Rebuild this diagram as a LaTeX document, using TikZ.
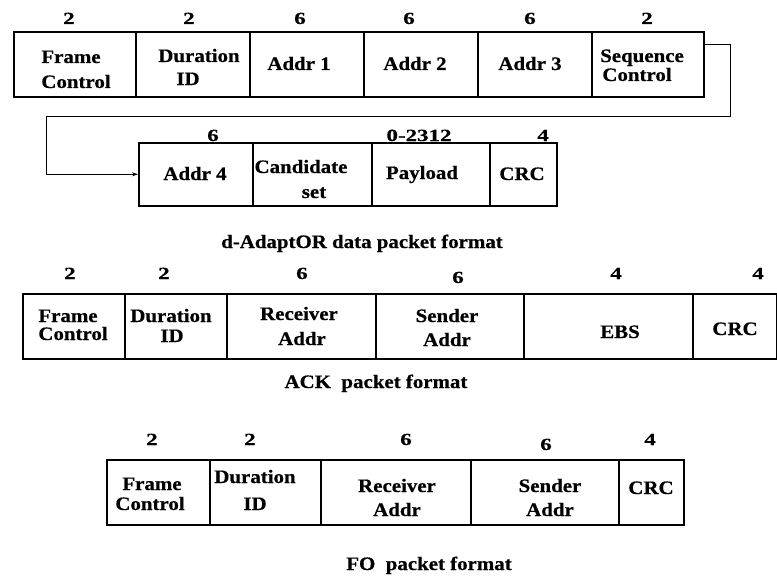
\documentclass[tikz,border=0pt]{standalone}
\usepackage{fontspec}
\setmainfont[FakeStretch=1.1,BoldFeatures={FakeBold=0.6}]{Liberation Serif}
\newfontfamily\numfont[FakeStretch=1.35,BoldFeatures={FakeBold=0.6}]{Liberation Serif}
\usetikzlibrary{arrows.meta}
\newcommand\cbox[5]{\node[cellbox, minimum width={#3-#2}, minimum height={#5-#4}] (#1) at (#2,#4) {};}
\newcommand\ctext[4]{\node[celltext] (#1) at (#2,#3) {#4};}
\newcommand\cnum[4]{\node[num] (#1) at (#2,#3) {#4};}
\begin{document}
\begin{tikzpicture}[x=1pt,y=-1pt,
 cellbox/.style={draw, line width=1.6pt, inner sep=0pt, anchor=north west},
 celltext/.style={font=\fontsize{19}{22}\selectfont\bfseries, inner sep=0pt, anchor=base},
 num/.style={font=\numfont\fontsize{17}{20}\selectfont\bfseries, inner sep=0pt, anchor=base},
 link/.style={line width=0.8pt, -{Stealth[length=6pt,width=4pt]}}]
\useasboundingbox (0,0) rectangle (777,578);
% ================= row 1
\cbox{fc1}{13}{135}{31}{96}
\cbox{di1}{135}{249}{31}{96}
\cbox{a1}{249}{363}{31}{96}
\cbox{a2}{363}{477}{31}{96}
\cbox{a3}{477}{591}{31}{96}
\cbox{sc}{591}{703}{31}{96}
\ctext{fc1a}{71}{63}{Frame}
\ctext{fc1b}{76}{88}{Control}
\ctext{di1a}{199}{62}{Duration}
\ctext{di1b}{188}{85}{ID}
\ctext{a1t}{299}{70}{Addr 1}
\ctext{a2t}{415}{70}{Addr 2}
\ctext{a3t}{530}{70}{Addr 3}
\ctext{sca}{642}{62}{Sequence}
\ctext{scb}{637}{81}{Control}
\cnum{n11}{69}{24}{2}
\cnum{n12}{189}{24}{2}
\cnum{n13}{300}{24}{6}
\cnum{n14}{409}{24}{6}
\cnum{n15}{530}{24}{6}
\cnum{n16}{647}{24}{2}
% ================= row 2
\cbox{a4}{138}{252}{142}{205}
\cbox{cs}{252}{371}{142}{205}
\cbox{pl}{371}{489}{142}{205}
\cbox{crc1}{489}{556}{142}{205}
\ctext{a4t}{195}{180}{Addr 4}
\ctext{csa}{301}{173}{Candidate}
\ctext{csb}{314}{198}{set}
\ctext{plt}{422}{179}{Payload}
\ctext{crc1t}{522}{180}{CRC}
\cnum{n21}{213}{141}{6}
\cnum{n22}{419}{141}{0-2312}
\cnum{n23}{543}{141}{4}
\coordinate (k1) at (730,44);
\coordinate (k2) at (730,116);
\coordinate (k3) at (46,116);
\draw[link] (sc.east |- k1) -- (k1) -- (k2) -- (k3) -- (k3 |- a4.west) -- (a4.west);
\ctext{cap1}{362}{248}{d-AdaptOR data packet format}
% ================= row 3
\cbox{fc3}{22}{124}{293}{358}
\cbox{di3}{124}{226}{293}{358}
\cbox{ra3}{226}{375}{293}{358}
\cbox{sa3}{375}{523}{293}{358}
\cbox{ebs}{523}{692}{293}{358}
\cbox{crc3}{692}{776}{293}{358}
\ctext{fc3a}{68}{322}{Frame}
\ctext{fc3b}{73}{340}{Control}
\ctext{di3a}{171}{322}{Duration}
\ctext{di3b}{172}{342}{ID}
\ctext{ra3a}{299}{320}{Receiver}
\ctext{ra3b}{302}{345}{Addr}
\ctext{sa3a}{447}{322}{Sender}
\ctext{sa3b}{447}{346}{Addr}
\ctext{ebst}{620}{338}{EBS}
\ctext{crc3t}{735}{335}{CRC}
\cnum{n31}{70}{279}{2}
\cnum{n32}{164}{279}{2}
\cnum{n33}{302}{279}{6}
\cnum{n34}{458}{283}{6}
\cnum{n35}{616}{279}{4}
\cnum{n36}{758}{279}{4}
\ctext{cap2}{376}{388}{ACK\ \ packet format}
% ================= row 4
\cbox{fc4}{106}{209}{459}{524}
\cbox{di4}{209}{320}{459}{524}
\cbox{ra4}{320}{470}{459}{524}
\cbox{sa4}{470}{618}{459}{524}
\cbox{crc4}{618}{683}{459}{524}
\ctext{fc4a}{152}{490}{Frame}
\ctext{fc4b}{150}{510}{Control}
\ctext{di4a}{255}{483}{Duration}
\ctext{di4b}{255}{510}{ID}
\ctext{ra4a}{397}{492}{Receiver}
\ctext{ra4b}{397}{516}{Addr}
\ctext{sa4a}{550}{492}{Sender}
\ctext{sa4b}{550}{516}{Addr}
\ctext{crc4t}{651}{494}{CRC}
\cnum{n41}{152}{445}{2}
\cnum{n42}{250}{445}{2}
\cnum{n43}{406}{445}{6}
\cnum{n44}{546}{450}{6}
\cnum{n45}{650}{445}{4}
\ctext{cap3}{429}{570}{FO\ \ packet format}
\end{tikzpicture}
\end{document}
